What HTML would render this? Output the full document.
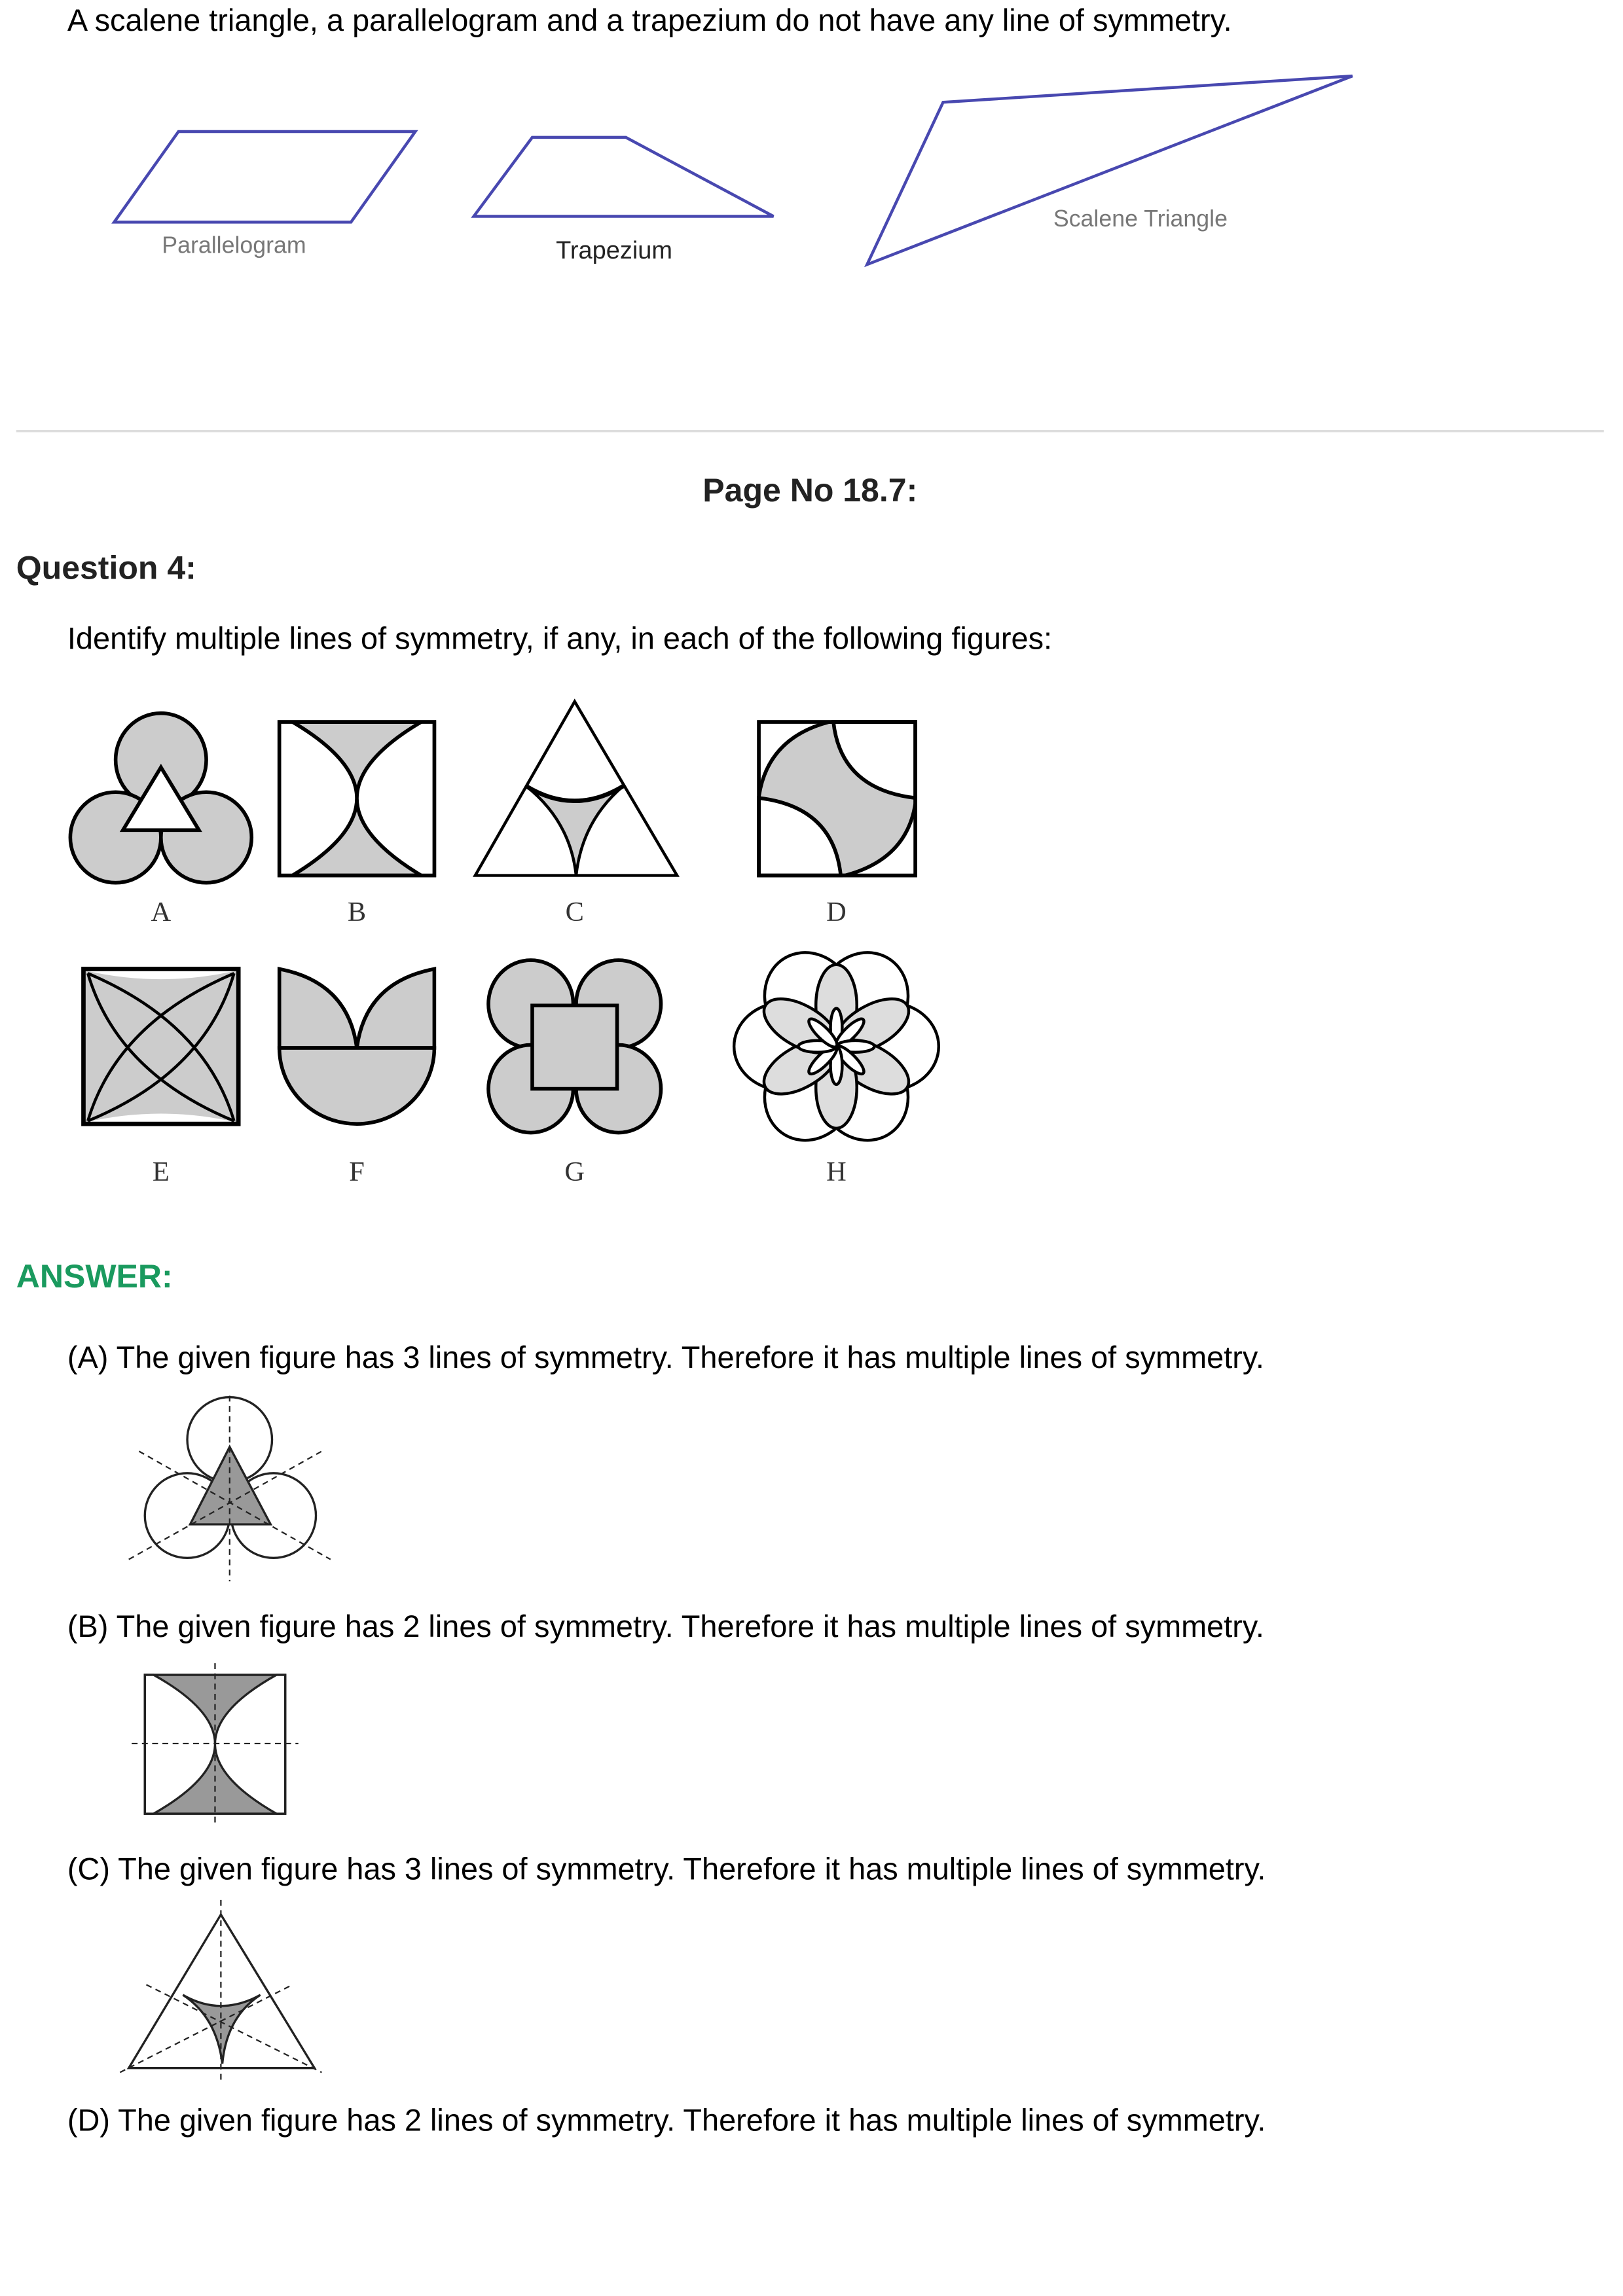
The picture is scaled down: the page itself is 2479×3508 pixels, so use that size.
<!DOCTYPE html>
<html><head><meta charset="utf-8"><style>
html,body{margin:0;padding:0;background:#fff;width:2479px;height:3508px;overflow:hidden}
svg{display:block}
text{font-family:"Liberation Sans",Arial,sans-serif}
.s{font-family:"Liberation Serif",serif;font-size:19px;fill:#333}
</style></head><body>
<svg width="2479" height="3508" viewBox="0 0 1110 1571" xmlns="http://www.w3.org/2000/svg">
<text x="46" y="21" font-size="21" fill="#000">A scalene triangle, a parallelogram and a trapezium do not have any line of symmetry.</text>
<g fill="none" stroke="#4848b0" stroke-width="2">
<polygon points="78,152 240,152 284,90 122,90"/>
<polygon points="324,148 529,148 428,94 364,94"/>
<polygon points="593,181 645,70 925,52"/>
</g>
<text x="160" y="173" font-size="16" fill="#777" text-anchor="middle">Parallelogram</text>
<text x="420" y="177" font-size="17" fill="#222" text-anchor="middle">Trapezium</text>
<text x="780" y="155" font-size="16" fill="#777" text-anchor="middle">Scalene Triangle</text>
<line x1="11" y1="295" x2="1097" y2="295" stroke="#ddd" stroke-width="1.5"/>
<text x="554" y="343" font-size="22.4" font-weight="bold" fill="#222" text-anchor="middle">Page No 18.7:</text>
<text x="11" y="396" font-size="22.4" font-weight="bold" fill="#222">Question 4:</text>
<text x="46" y="444" font-size="21" fill="#000">Identify multiple lines of symmetry, if any, in each of the following figures:</text>

<g stroke="#000" stroke-width="2.5">
<g fill="#ccc">
<ellipse cx="110" cy="520" rx="31" ry="32"/><ellipse cx="79" cy="573" rx="31" ry="31"/><ellipse cx="141" cy="573" rx="31" ry="31"/>
<polygon points="110,525 84,568 136,568" fill="#fff"/>
</g>
<g>
<rect x="191" y="494" width="106" height="105" fill="#ccc"/>
<path d="M191,494 L200,494 Q288,546 200,599 L191,599 Z" fill="#fff" stroke="none"/>
<path d="M297,494 L288,494 Q200,546 288,599 L297,599 Z" fill="#fff" stroke="none"/>
<path d="M200,494 Q288,546 200,599 M288,494 Q200,546 288,599" fill="none"/>
<rect x="191" y="494" width="106" height="105" fill="none"/>
</g>
<g>
<polygon points="393,480 325,599 463,599" fill="#fff" stroke-width="2"/>
<path d="M360,538 Q393,558 426,538 Q398,562 394,599 Q390,562 360,538 Z" fill="#ccc" stroke-width="2"/>
<path d="M360,538 Q393,558 426,538" fill="none" stroke-width="3"/>
</g>
<g>
<rect x="519" y="494" width="107" height="105" fill="#ccc"/>
<path d="M570,494 Q575,540 626,546 L626,494 Z M519,546 Q570,552 575,599 L519,599 Z" fill="#fff"/>
<path d="M519,494 L567,494 Q525,505 519,545 Z M626,599 L578,599 Q620,588 626,550 Z" fill="#fff" stroke="none"/>
<path d="M519,545 Q525,505 567,494 M626,550 Q620,588 578,599" fill="none"/>
<rect x="519" y="494" width="107" height="105" fill="none"/>
</g>
<g>
<rect x="57" y="663" width="106" height="106" fill="#ccc"/>
<path d="M58,664 Q110,676 162,664 Z M58,768 Q110,756 162,768 Z" fill="#fff" stroke="none"/>
<path d="M60,666 Q140,700 160,767 M160,666 Q80,700 60,767 M60,767 Q140,734 160,666 M160,767 Q80,734 60,666" fill="none" stroke-width="2"/>
<rect x="57" y="663" width="106" height="106" fill="none" stroke-width="3"/>
</g>
<g fill="#ccc">
<path d="M191,663 L191,717 L297,717 L297,663 Q250,672 244,717 Q238,672 191,663 Z"/>
<path d="M191,717 L297,717 A53,52 0 0 1 191,717 Z"/>
</g>
<g fill="#ccc">
<ellipse cx="363" cy="687" rx="29" ry="30"/><ellipse cx="423" cy="687" rx="29" ry="30"/>
<ellipse cx="363" cy="745" rx="29" ry="30"/><ellipse cx="423" cy="745" rx="29" ry="30"/>
<rect x="364" y="688" width="58" height="57"/>
</g>
<g transform="translate(572,716)" stroke-width="2">
<g fill="#fff">
<ellipse cx="0" cy="-36" rx="30" ry="34" transform="rotate(30)"/><ellipse cx="0" cy="-36" rx="30" ry="34" transform="rotate(90)"/><ellipse cx="0" cy="-36" rx="30" ry="34" transform="rotate(150)"/>
<ellipse cx="0" cy="-36" rx="30" ry="34" transform="rotate(210)"/><ellipse cx="0" cy="-36" rx="30" ry="34" transform="rotate(270)"/><ellipse cx="0" cy="-36" rx="30" ry="34" transform="rotate(330)"/>
</g>
<g fill="#ddd">
<ellipse cx="0" cy="-28" rx="14" ry="28"/><ellipse cx="0" cy="-28" rx="14" ry="28" transform="rotate(60)"/><ellipse cx="0" cy="-28" rx="14" ry="28" transform="rotate(120)"/>
<ellipse cx="0" cy="-28" rx="14" ry="28" transform="rotate(180)"/><ellipse cx="0" cy="-28" rx="14" ry="28" transform="rotate(240)"/><ellipse cx="0" cy="-28" rx="14" ry="28" transform="rotate(300)"/>
</g>
<g fill="#fff">
<ellipse cx="0" cy="-13" rx="4" ry="13" transform="rotate(0)"/><ellipse cx="0" cy="-13" rx="4" ry="13" transform="rotate(45)"/><ellipse cx="0" cy="-13" rx="4" ry="13" transform="rotate(90)"/><ellipse cx="0" cy="-13" rx="4" ry="13" transform="rotate(135)"/>
<ellipse cx="0" cy="-13" rx="4" ry="13" transform="rotate(180)"/><ellipse cx="0" cy="-13" rx="4" ry="13" transform="rotate(225)"/><ellipse cx="0" cy="-13" rx="4" ry="13" transform="rotate(270)"/><ellipse cx="0" cy="-13" rx="4" ry="13" transform="rotate(315)"/>
</g>
</g>
</g>
<g>
<text class="s" x="110" y="630" text-anchor="middle">A</text><text class="s" x="244" y="630" text-anchor="middle">B</text>
<text class="s" x="393" y="630" text-anchor="middle">C</text><text class="s" x="572" y="630" text-anchor="middle">D</text>
<text class="s" x="110" y="808" text-anchor="middle">E</text><text class="s" x="244" y="808" text-anchor="middle">F</text>
<text class="s" x="393" y="808" text-anchor="middle">G</text><text class="s" x="572" y="808" text-anchor="middle">H</text>
</g>

<text x="11" y="881" font-size="22.4" font-weight="bold" fill="#1a9a5e">ANSWER:</text>
<text x="46" y="936" font-size="21" fill="#000">(A) The given figure has 3 lines of symmetry. Therefore it has multiple lines of symmetry.</text>
<g stroke="#222" stroke-width="1.5" fill="none">
<circle cx="157" cy="985" r="29"/><circle cx="128" cy="1037" r="29"/><circle cx="187" cy="1037" r="29"/>
<polygon points="157,990 130,1043 185,1043" fill="#999"/>
<g stroke-dasharray="4,3" stroke-width="1"><line x1="157" y1="955" x2="157" y2="1082"/><line x1="88" y1="1067" x2="220" y2="993"/><line x1="95" y1="993" x2="226" y2="1067"/></g>
</g>
<text x="46" y="1120" font-size="21" fill="#000">(B) The given figure has 2 lines of symmetry. Therefore it has multiple lines of symmetry.</text>
<g stroke="#222" stroke-width="1.5">
<rect x="99" y="1146" width="96" height="95" fill="#999"/>
<path d="M99,1146 L105,1146 Q189,1193 105,1241 L99,1241 Z M195,1146 L189,1146 Q105,1193 189,1241 L195,1241 Z" fill="#fff"/>
<rect x="99" y="1146" width="96" height="95" fill="none"/>
<g stroke-dasharray="4,3" stroke-width="1"><line x1="147" y1="1138" x2="147" y2="1250"/><line x1="90" y1="1193" x2="204" y2="1193"/></g>
</g>
<text x="46" y="1286" font-size="21" fill="#000">(C) The given figure has 3 lines of symmetry. Therefore it has multiple lines of symmetry.</text>
<g stroke="#222" stroke-width="1.5">
<polygon points="151,1310 88,1415 215,1415" fill="#fff"/>
<path d="M125,1365 Q151,1380 178,1365 Q155,1380 152,1412 Q148,1380 125,1365 Z" fill="#999"/>
<g stroke-dasharray="4,3" stroke-width="1" fill="none"><line x1="151" y1="1300" x2="151" y2="1425"/><line x1="82" y1="1418" x2="200" y2="1358"/><line x1="100" y1="1358" x2="220" y2="1418"/></g>
</g>
<text x="46" y="1458" font-size="21" fill="#000">(D) The given figure has 2 lines of symmetry. Therefore it has multiple lines of symmetry.</text>
</svg>
</body></html>
